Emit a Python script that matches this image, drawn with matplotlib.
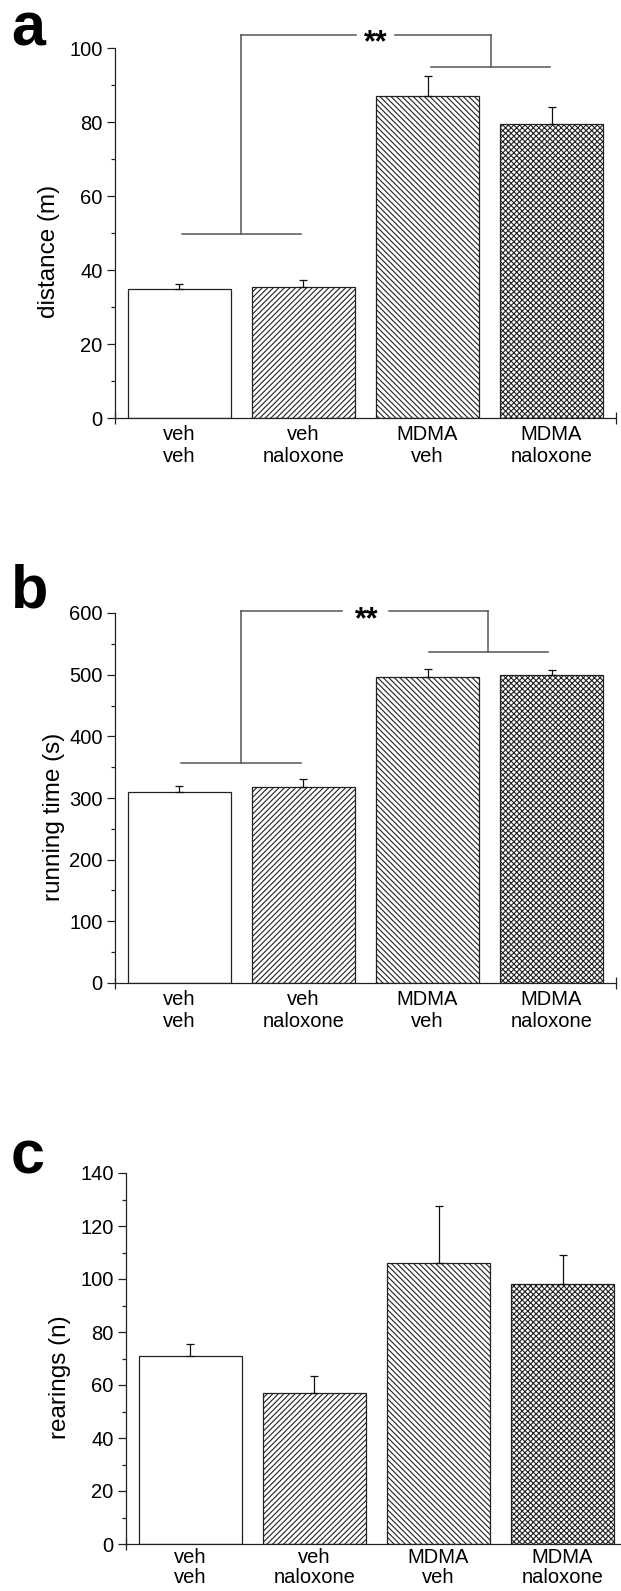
import numpy as np
import matplotlib
matplotlib.use("Agg")
import matplotlib.pyplot as plt
from matplotlib.ticker import MultipleLocator, FixedLocator

plt.rcParams['font.family'] = ['Liberation Sans', 'DejaVu Sans']
plt.rcParams['hatch.linewidth'] = 0.8

groups = ['veh\nveh', 'veh\nnaloxone', 'MDMA\nveh', 'MDMA\nnaloxone']
hatches = ['', '//////', '\\\\\\\\\\\\', 'xxxxxx']

distance = [35.0, 35.3, 86.9, 79.4]
distance_err = [1.3, 1.9, 5.4, 4.7]

running = [310, 318, 497, 499]
running_err = [9, 13, 11.5, 8.5]

rearings = [71.1, 56.8, 105.9, 98.3]
rearings_err = [4.5, 6.6, 21.6, 10.7]

W, H = 621, 1591
fig = plt.figure(figsize=(W / 100, H / 100), dpi=100)


def px_axes(left, top, bottom, width=501):
    return fig.add_axes([left / W, 1 - bottom / H, width / W, (bottom - top) / H])


def bar_panel(ax, vals, errs, ymax, major, minor, ylabel, label_x, lsp=1.2):
    x = np.arange(len(vals))
    ax.bar(x, vals, width=0.83, color='white', edgecolor='#222222',
           linewidth=0.9, hatch=hatches, zorder=2)
    ax.errorbar(x, vals, yerr=[np.zeros(len(errs)), errs], fmt='none',
                ecolor='#111111', elinewidth=0.9, capsize=2.6, capthick=0.9, zorder=3)
    ax.set_xlim(-0.52, 3.52)
    ax.set_ylim(0, ymax)
    for s in ['top', 'right']:
        ax.spines[s].set_visible(False)
    for s in ['left', 'bottom']:
        ax.spines[s].set_color('#222222')
        ax.spines[s].set_linewidth(0.9)
    ax.yaxis.set_major_locator(MultipleLocator(major))
    ax.yaxis.set_minor_locator(MultipleLocator(minor))
    ax.tick_params(axis='y', which='major', length=5.5, width=0.9, pad=3.5,
                   labelsize=14.5, color='#222222')
    ax.tick_params(axis='y', which='minor', length=3, width=0.9, color='#222222')
    ax.set_xticks(x)
    ax.set_xticklabels(groups, fontsize=14.5, linespacing=lsp)
    ax.tick_params(axis='x', which='major', length=0, pad=5)
    ax.xaxis.set_minor_locator(FixedLocator([-0.52, 3.52]))
    ax.tick_params(axis='x', which='minor', length=8, width=0.9,
                   direction='inout', color='#222222')
    ax.set_ylabel(ylabel, fontsize=17.5)
    ax.yaxis.set_label_coords(label_x, 0.45)


def bracket(ax, left, right, left_y, right_y, top_y, gap, star_x, star_y):
    kw = dict(color='#555555', lw=1.1, clip_on=False, zorder=4)
    mid_l = (left[0] + left[1]) / 2
    mid_r = (right[0] + right[1]) / 2
    ax.plot(left, [left_y, left_y], **kw)
    ax.plot(right, [right_y, right_y], **kw)
    ax.plot([mid_l, mid_l], [left_y, top_y], **kw)
    ax.plot([mid_r, mid_r], [right_y, top_y], **kw)
    ax.plot([mid_l, gap[0]], [top_y, top_y], **kw)
    ax.plot([gap[1], mid_r], [top_y, top_y], **kw)
    ax.text(star_x, star_y, '**', ha='center', va='baseline', fontsize=22,
            fontweight='bold')


# panel a
ax_a = px_axes(115, 48, 418)
bar_panel(ax_a, distance, distance_err, 100, 20, 10, 'distance (m)', -0.11)
bracket(ax_a, [0.02, 0.98], [2.03, 2.99], 49.6, 95.0, 103.5, [1.42, 1.74], 1.58, 99.2)

# panel b
ax_b = px_axes(115, 613, 983)
bar_panel(ax_b, running, running_err, 600, 100, 50, 'running time (s)', -0.10)
bracket(ax_b, [0.01, 0.98], [2.01, 2.97], 356.7, 537.0, 603.0, [1.31, 1.69], 1.51, 575)

# panel c
ax_c = px_axes(126, 1173, 1544)
bar_panel(ax_c, rearings, rearings_err, 140, 20, 10, 'rearings (n)', -0.11, lsp=1.05)
ax_c.tick_params(axis='x', which='major', pad=3)

for letter, yb in [('a', 45), ('b', 607), ('c', 1173)]:
    fig.text(11 / W, 1 - yb / H, letter, fontsize=44, fontweight='bold',
             ha='left', va='baseline')

fig.savefig('out.png', dpi=100)
